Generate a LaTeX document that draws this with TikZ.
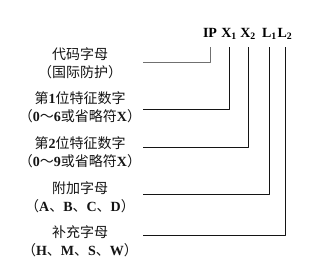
\documentclass[tikz,border=0pt]{standalone}
\usepackage{fontspec}
\setmainfont{Noto Sans CJK SC}
\newfontfamily\tms{Liberation Serif}
\usepackage{xcolor}
\usepackage{tikz}
\definecolor{ink}{HTML}{141414}
\definecolor{lead}{HTML}{707070}
\newcommand{\bn}[1]{{\tms\bfseries #1}}
\tikzset{fig/.style={line join=round,x=1pt,y=-1pt},
  code/.style={anchor=base,inner sep=0pt,font=\fontsize{14}{14}\tms\bfseries},
  note/.style={align=center,inner sep=0pt,ink,font=\fontsize{14}{18}\selectfont},
  wire/.style={line width=0.9pt}}

\begin{document}
\begin{tikzpicture}[fig]
  \useasboundingbox(0,0)rectangle(328,266);
  % code letters on top
  \node[code](ip)at(210,37){IP};\node[code](xa)at(229,37){X\textsubscript{1}};\node[code](xb)at(248,37){X\textsubscript{2}};
  \node[code](la)at(269.5,37){L\textsubscript{1}};\node[code](lb)at(285,37){L\textsubscript{2}};
  % explanations on the left
  \node[note](n1)at(80,63.5){代码字母\\（国际防护）};
  \node[note](n2)at(80,107.5){第\bn{1}位特征数字\\（\bn{0}～\bn{6}或省略符\bn{X}）};
  \node[note](n3)at(80,152){第\bn{2}位特征数字\\（\bn{0}～\bn{9}或省略符\bn{X}）};
  \node[note](n4)at(80,197){附加字母\\（\bn{A}、\bn{B}、\bn{C}、\bn{D}）};
  \node[note](n5)at(80,241){补充字母\\（\bn{H}、\bn{M}、\bn{S}、\bn{W}）};
  \coordinate(top)at(0,47);
  \foreach \s/\y/\c [count=\i] in {ip/62/lead,xa/109/ink,xb/147/ink,la/194/ink,lb/235/ink}
   {\coordinate(e\i)at(143,\y);\draw[wire,\c](\s|-top)|-(e\i);}
\end{tikzpicture}
\end{document}
